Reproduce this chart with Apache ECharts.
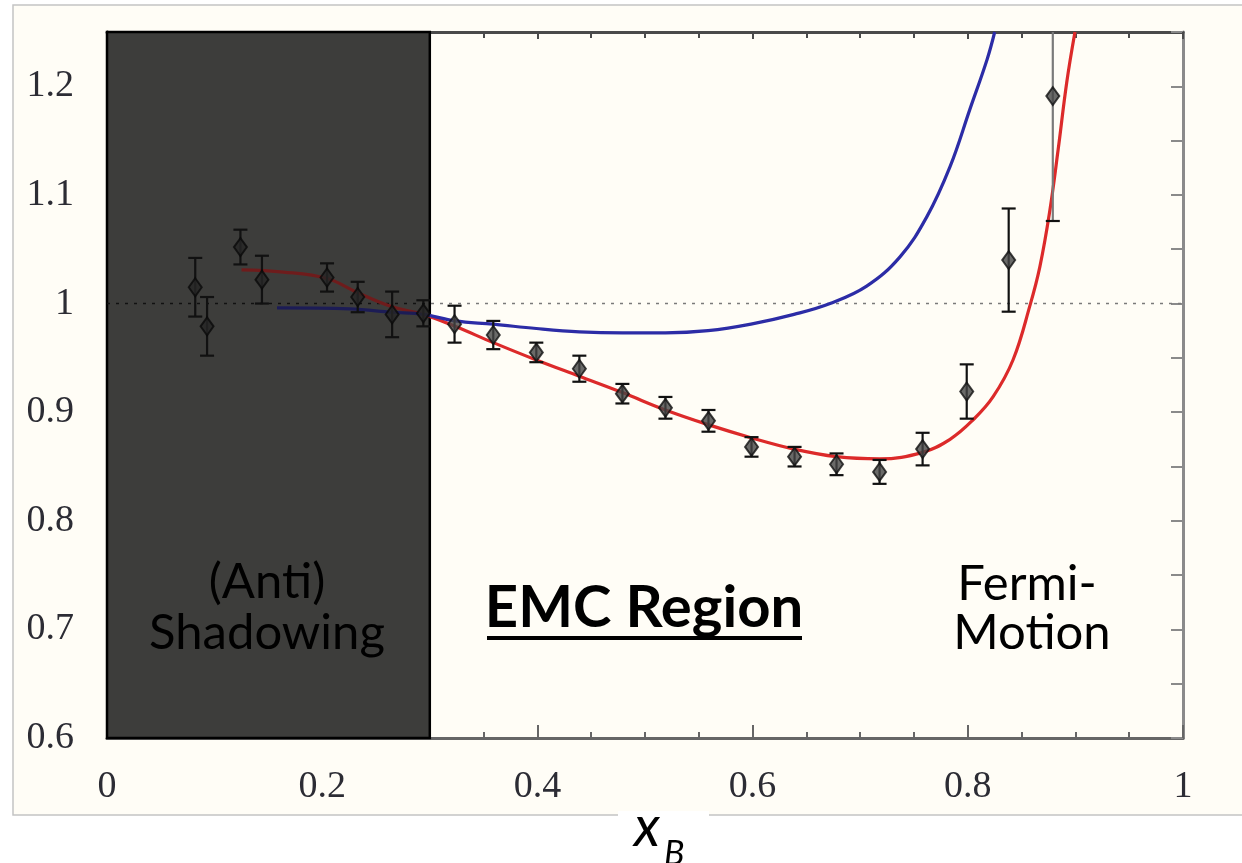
<!DOCTYPE html>
<html>
<head>
<meta charset="utf-8">
<script src="https://cdn.jsdelivr.net/npm/echarts@6/dist/echarts.min.js"></script>
<style>
  html, body { margin: 0; padding: 0; background: #ffffff; }
  #chart { width: 1242px; height: 863px; }
</style>
</head>
<body>
<div id="chart"></div>
<script>
// Measured per-nucleon structure-function ratio vs Bjorken x
const xB    = [0.082, 0.093, 0.124, 0.144, 0.2045, 0.233, 0.265, 0.294, 0.323, 0.359, 0.399, 0.439,
               0.479, 0.519, 0.559, 0.599, 0.639, 0.678, 0.718, 0.758, 0.799, 0.838, 0.879];
const ratio = [1.015, 0.979, 1.052, 1.022, 1.024, 1.006, 0.990, 0.991, 0.981, 0.971, 0.955, 0.940,
               0.917, 0.904, 0.892, 0.868, 0.859, 0.852, 0.845, 0.866, 0.919, 1.040, 1.191];
const ratioErr = [0.027, 0.027, 0.016, 0.022, 0.013, 0.014, 0.021, 0.012, 0.017, 0.013, 0.009, 0.012,
                  0.009, 0.010, 0.010, 0.009, 0.009, 0.010, 0.011, 0.015, 0.025, 0.0475, 0.115];

// Model curve with nuclear binding effects (red)
const redX = [0.125, 0.164, 0.2045, 0.233, 0.265, 0.294, 0.3234, 0.359, 0.399, 0.439, 0.479, 0.519,
              0.5586, 0.5985, 0.6385, 0.678, 0.718, 0.758, 0.7835, 0.805, 0.8234, 0.842, 0.858,
              0.867, 0.876, 0.884, 0.892, 0.8996];
const redY = [1.031, 1.029, 1.023, 1.010, 0.997, 0.990, 0.979, 0.964, 0.948, 0.933, 0.918, 0.902,
              0.8885, 0.8765, 0.866, 0.859, 0.857, 0.863, 0.875, 0.893, 0.914, 0.948, 0.999,
              1.034, 1.084, 1.142, 1.204, 1.25];

// Fermi-motion-only curve (blue)
const blueX = [0.158, 0.226, 0.265, 0.294, 0.3234, 0.359, 0.399, 0.439, 0.479, 0.519, 0.5586, 0.5985,
               0.6385, 0.672, 0.706, 0.737, 0.762, 0.7835, 0.802, 0.818, 0.825];
const blueY = [0.996, 0.995, 0.992, 0.990, 0.984, 0.981, 0.977, 0.974, 0.973, 0.973, 0.975, 0.981,
               0.990, 1.000, 1.016, 1.043, 1.080, 1.126, 1.179, 1.225, 1.250];

// Region boundary and unity reference
const shadowRange = [0, 0.3];
const unity = 1;

// Axis ranges; y ticks every 0.05, labelled every 0.1
const xTicks = { min: 0, max: 1, interval: 0.2 };
const yTicks = { min: 0.6, max: 1.25, interval: 0.05, labelStep: 0.1 };

const zip = (a, b) => a.map((v, i) => [v, b[i]]);

const GRID = { left: 107, top: 32, right: 59, bottom: 125 };
const W = 1242;
const plotLeft = GRID.left, plotRight = W - GRID.right;

// Horizontal colour split: darker tone inside the shaded band, normal tone outside
function globalGradient(dark, light) {
  const f = (shadowRange[1] - xTicks.min) / (xTicks.max - xTicks.min);
  return new echarts.graphic.LinearGradient(plotLeft, 0, plotRight, 0, [
    { offset: 0, color: dark }, { offset: f, color: dark },
    { offset: f, color: light }, { offset: 1, color: light }
  ], true);
}

const inShade = x => x >= shadowRange[0] && x < shadowRange[1];

const chart = echarts.init(document.getElementById('chart'), null, { renderer: 'canvas' });

const serifFont = '"Liberation Serif", "DejaVu Serif", serif';
const sansFont = 'Lato, "Open Sans", sans-serif';

function yLabel(v) {
  const k = v / yTicks.labelStep;
  if (Math.abs(k - Math.round(k)) > 1e-6 || v > 1.2 + 1e-9) return '';
  return String(parseFloat(v.toFixed(2)));
}

function xAxisCfg(pos, labels, color) {
  return {
    type: 'value', position: pos, min: xTicks.min, max: xTicks.max, interval: xTicks.interval,
    axisLine: { show: true, onZero: false, lineStyle: { color: color, width: 3 } },
    axisTick: { show: true, inside: true, length: labels ? 13 : 7, lineStyle: { color: color, width: 2 } },
    minorTick: { show: true, splitNumber: 4, length: 6, lineStyle: { color: color, width: 2 } },
    axisLabel: { show: labels, margin: 30, color: '#2c2c34', fontFamily: serifFont, fontSize: 38 },
    splitLine: { show: false }
  };
}
function yAxisCfg(pos, labels, color) {
  return {
    type: 'value', position: pos, min: yTicks.min, max: yTicks.max, interval: yTicks.interval,
    axisLine: { show: true, onZero: false, lineStyle: { color: color, width: 3 } },
    axisTick: { show: true, inside: true, length: 12, lineStyle: { color: color, width: 2 } },
    axisLabel: { show: labels, margin: 33, color: '#2c2c34', fontFamily: serifFont, fontSize: 38,
                 formatter: yLabel },
    splitLine: { show: false }
  };
}

const option = {
  backgroundColor: '#ffffff',
  animation: false,
  grid: { left: GRID.left, top: GRID.top, right: GRID.right, bottom: GRID.bottom, show: false },
  xAxis: [xAxisCfg('bottom', true, '#666666'), xAxisCfg('top', false, '#4a4a4a')],
  yAxis: [yAxisCfg('left', true, '#111111'), yAxisCfg('right', false, '#8a8a8a')],
  graphic: [
    { type: 'rect', z: -10, silent: true,
      shape: { x: 13, y: 5, width: 1260, height: 810 },
      style: { fill: '#fffdf6', stroke: '#c4c4c4', lineWidth: 1.5 } },
    { type: 'rect', z: -9, silent: true,
      shape: { x: 618, y: 811, width: 91, height: 14 },
      style: { fill: '#ffffff' } },
    { type: 'text', z: 50, silent: true, x: 634, y: 856,
      style: { text: 'x', fontFamily: sansFont, fontStyle: 'italic', fontSize: 56, fill: '#000',
               align: 'left', verticalAlign: 'bottom' } },
    { type: 'text', z: 50, silent: true, x: 664, y: 871,
      style: { text: 'B', fontFamily: sansFont, fontStyle: 'italic', fontSize: 34, fill: '#000',
               align: 'left', verticalAlign: 'bottom' } },
    { type: 'text', z: 50, silent: true, x: 267, y: 582,
      style: { text: '(Anti)', fontFamily: sansFont, fontSize: 49, fill: '#000', align: 'center', verticalAlign: 'middle' } },
    { type: 'text', z: 50, silent: true, x: 267, y: 633,
      style: { text: 'Shadowing', fontFamily: sansFont, fontSize: 49, fill: '#000', align: 'center', verticalAlign: 'middle' } },
    { type: 'text', z: 50, silent: true, x: 644, y: 608,
      style: { text: 'EMC Region', fontFamily: sansFont, fontWeight: 'bold', fontSize: 58, fill: '#000', align: 'center', verticalAlign: 'middle' } },
    { type: 'line', z: 50, silent: true,
      shape: { x1: 487, y1: 638, x2: 802, y2: 638 },
      style: { stroke: '#000', lineWidth: 4 } },
    { type: 'text', z: 50, silent: true, x: 1027, y: 584,
      style: { text: 'Fermi-', fontFamily: sansFont, fontSize: 49, fill: '#000', align: 'center', verticalAlign: 'middle' } },
    { type: 'text', z: 50, silent: true, x: 1032, y: 633,
      style: { text: 'Motion', fontFamily: sansFont, fontSize: 49, fill: '#000', align: 'center', verticalAlign: 'middle' } }
  ],
  series: [
    // Shaded (anti)shadowing region
    {
      type: 'custom', z: 1, silent: true,
      data: [shadowRange],
      renderItem: function (params, api) {
        const p0 = api.coord([api.value(0), yTicks.max]);
        const p1 = api.coord([api.value(1), yTicks.min]);
        return {
          type: 'rect',
          shape: { x: p0[0], y: p0[1], width: p1[0] - p0[0], height: p1[1] - p0[1] },
          style: { fill: '#3d3d3b', stroke: '#000', lineWidth: 2.5 }
        };
      }
    },
    // Unity reference line
    {
      type: 'line', z: 2, silent: true, symbol: 'none',
      data: [[xTicks.min, unity], [xTicks.max, unity]],
      lineStyle: { width: 1.6, type: [3, 6], color: globalGradient('#111111', '#7a7a7a') }
    },
    // Red model curve
    {
      type: 'line', z: 3, silent: true, symbol: 'none', smooth: 0.4,
      data: zip(redX, redY), lineStyle: { width: 3.2, color: globalGradient('#6e1c1c', '#dc2a2a') }
    },
    // Blue model curve
    {
      type: 'line', z: 3, silent: true, symbol: 'none', smooth: 0.4,
      data: zip(blueX, blueY), lineStyle: { width: 3.2, color: globalGradient('#1c1c55', '#2c2ca6') }
    },
    // Error bars
    {
      type: 'custom', z: 4, silent: true,
      data: xB.map((x, i) => [x, ratio[i], ratioErr[i]]),
      renderItem: function (params, api) {
        const x = api.value(0), y = api.value(1), e = api.value(2);
        const clipped = y + e > yTicks.max;
        const top = api.coord([x, Math.min(y + e, yTicks.max)]);
        const bot = api.coord([x, y - e]);
        const half = 7;
        const barColor = clipped ? '#7a7a7a' : '#111';
        const children = [
          { type: 'line', shape: { x1: top[0], y1: top[1], x2: bot[0], y2: bot[1] },
            style: { stroke: barColor, lineWidth: 2.2 } },
          { type: 'line', shape: { x1: bot[0] - half, y1: bot[1], x2: bot[0] + half, y2: bot[1] },
            style: { stroke: '#111', lineWidth: 2.2 } }
        ];
        if (!clipped) {
          children.push({ type: 'line', shape: { x1: top[0] - half, y1: top[1], x2: top[0] + half, y2: top[1] },
            style: { stroke: '#111', lineWidth: 2.2 } });
        }
        return { type: 'group', children: children };
      }
    },
    // Data markers
    {
      type: 'scatter', z: 5, silent: true,
      symbol: 'diamond', symbolSize: [13, 18],
      data: xB.map((x, i) => ({
        value: [x, ratio[i]],
        itemStyle: { color: inShade(x) ? '#262626' : '#454545', borderColor: inShade(x) ? '#0a0a0a' : '#111' }
      })),
      itemStyle: { borderWidth: 2 }
    }
  ]
};

chart.setOption(option);
</script>
</body>
</html>
